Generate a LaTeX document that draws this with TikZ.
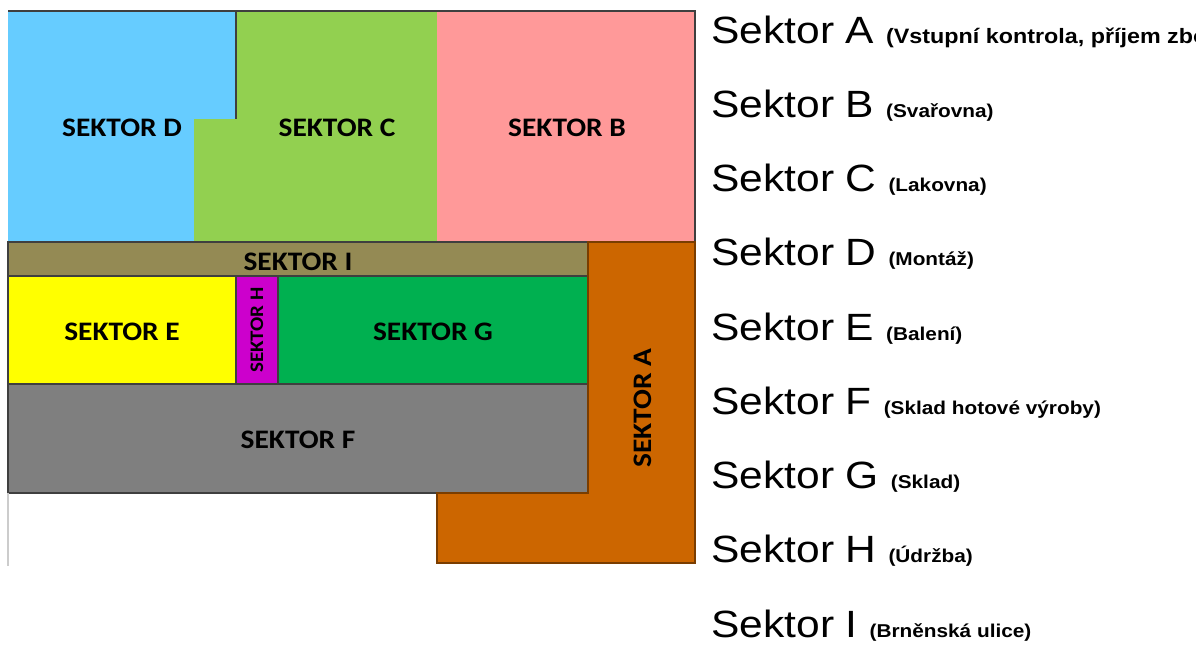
\documentclass[tikz,border=0pt]{standalone}
\usepackage{fontspec}
\setmainfont{Liberation Sans}
\newfontfamily\tagfont[FakeStretch=1.1]{Carlito}
\newfontfamily\legendfont[FakeStretch=1.12]{Liberation Sans}
\usepackage{tikz}
\usetikzlibrary{positioning,calc}

\definecolor{colA}{HTML}{CC6600}
\definecolor{colB}{HTML}{FF9999}
\definecolor{colC}{HTML}{92D050}
\definecolor{colD}{HTML}{66CCFF}
\definecolor{colE}{HTML}{FFFF00}
\definecolor{colF}{HTML}{7F7F7F}
\definecolor{colG}{HTML}{00B050}
\definecolor{colH}{HTML}{CC00CC}
\definecolor{colI}{HTML}{948A54}
\definecolor{edge}{HTML}{3F3F3F}

\begin{document}
\begin{tikzpicture}[
        x=0.025cm, y=-0.025cm,
        wall/.style={draw=edge, line width=0.9pt},
        tag/.style={font=\tagfont\bfseries\fontsize{19}{21}\selectfont, text=black, inner sep=0pt},
        smalltag/.style={font=\tagfont\bfseries\fontsize{13.6}{15}\selectfont, text=black, inner sep=0pt},
        legend/.style={anchor=base west, inner sep=0pt, font=\legendfont}
    ]
    \useasboundingbox (0,0) rectangle (1196,646);

    % upper hall
    \fill[colD] (8,11) rectangle (236,242);
    \fill[colC] (236,11) -- (437,11) -- (437,242) -- (194,242) -- (194,119) -- (236,119) -- cycle;
    \fill[colB] (437,11) rectangle (695,242);
    \draw[wall] (8,11) -- (695,11) -- (695,242);
    \draw[wall] (236,11) -- (236,119);
    \draw[wall] (8,242) -- (588,242);

    % lower hall
    \draw[wall, fill=colI] (8,242) rectangle (588,276);
    \draw[wall, fill=colE] (8,276) rectangle (236,384);
    \draw[wall, fill=colH] (236,276) rectangle (278,384);
    \draw[wall, fill=colG] (278,276) rectangle (588,384);
    \draw[wall, fill=colF] (8,384) rectangle (588,493);
    \draw[wall, draw=colA!60!black, fill=colA] (588,242) -- (695,242) -- (695,563) -- (437,563) -- (437,493) -- (588,493) -- cycle;
    \draw[gray!40, line width=0.8pt] (8,493) -- (8,566);

    \node[tag] (labD) at (122,128) {SEKTOR D};
    \node[tag] (labC) at (337,128) {SEKTOR C};
    \node[tag] (labB) at (567,128) {SEKTOR B};
    \node[tag] (labI) at (298,262) {SEKTOR I};
    \node[tag] (labE) at (122,332) {SEKTOR E};
    \node[smalltag, rotate=90] (labH) at (257,330) {SEKTOR H};
    \node[tag] (labG) at (433,332) {SEKTOR G};
    \node[tag] (labF) at (298,440) {SEKTOR F};
    \node[tag, rotate=90] (labA) at (643,408) {SEKTOR A};

    % legend
    \foreach \s/\z/\t [count=\k from 0] in {A/14.8/{Vstupní kontrola, příjem zboží},B/13.2/{Svařovna},C/13.2/{Lakovna},D/13.2/{Montáž},E/13.2/{Balení},F/13.2/{Sklad hotové výroby},G/13.2/{Sklad},H/13.2/{Údržba},I/13.2/{Brněnská ulice}}
        \node[legend] (leg\s) at (711,43+74.25*\k) {{\fontsize{27}{30}\selectfont Sektor \s\ }{\fontsize{\z}{15}\selectfont\bfseries (\t)}};
\end{tikzpicture}
\end{document}
